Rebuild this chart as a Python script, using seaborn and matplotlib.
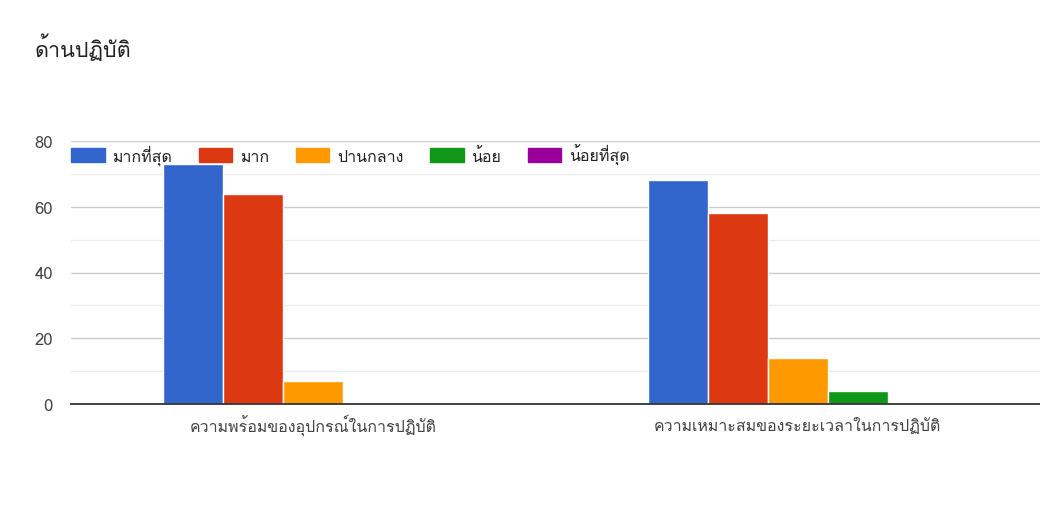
import numpy as np
import pandas as pd
import matplotlib
matplotlib.use("Agg")
import matplotlib.pyplot as plt
import seaborn as sns
from matplotlib import font_manager, ft2font
from matplotlib.patches import Patch
from matplotlib.ticker import MultipleLocator

# data
categories = ["ความพร้อมของอุปกรณ์ในการปฏิบัติ", "ความเหมาะสมของระยะเวลาในการปฏิบัติ"]
levels = ["มากที่สุด", "มาก", "ปานกลาง", "น้อย", "น้อยที่สุด"]
most = [73, 68]
much = [64, 58]
medium = [7, 14]
little = [0, 4]
least = [0, 0]
colors = ["#3366cc", "#dc3912", "#ff9900", "#109618", "#990099"]

rows = []
for lvl, vals in zip(levels, [most, much, medium, little, least]):
    for cat, v in zip(categories, vals):
        rows.append({"cat": cat, "level": lvl, "count": v})
df = pd.DataFrame(rows)

sns.set_style("white")

# find any installed family that has Thai glyphs
thai_fams = []
for f in font_manager.fontManager.ttflist:
    try:
        ft = ft2font.FT2Font(f.fname)
        if 0x0E01 in ft.get_charmap() and f.name not in thai_fams:
            thai_fams.append(f.name)
    except Exception:
        pass
plt.rcParams['font.family'] = thai_fams + ['DejaVu Sans']

fig = plt.figure(figsize=(10.4, 5.1), dpi=100)
ax = fig.add_axes([71/1040, 1 - 405/510, 969/1040, 263/510])

sns.barplot(data=df, x="cat", y="count", hue="level", hue_order=levels,
            order=categories, palette=colors, width=0.62, ax=ax,
            edgecolor="white", linewidth=1, legend=False, saturation=1)

ax.set_ylim(0, 80)
ax.set_xlim(-0.5, 1.5)
ax.yaxis.set_major_locator(MultipleLocator(20))
ax.yaxis.set_minor_locator(MultipleLocator(10))
ax.grid(axis="y", which="major", color="#cccccc", linewidth=1)
ax.grid(axis="y", which="minor", color="#ebebeb", linewidth=1)
ax.set_axisbelow(True)
for s in ["left", "right", "top"]:
    ax.spines[s].set_visible(False)
ax.spines["bottom"].set_color("#333333")
ax.spines["bottom"].set_linewidth(1.3)
ax.tick_params(axis="both", length=0, colors="#444444")
ax.tick_params(axis="y", pad=13, labelsize=12)
ax.tick_params(axis="x", pad=19, labelsize=11.5)
for lbl in ax.get_xticklabels():
    lbl.set_va("baseline")
ax.set_xlabel("")
ax.set_ylabel("")

handles = [Patch(facecolor=c, edgecolor=c, label=l) for c, l in zip(colors, levels)]
leg = ax.legend(handles=handles, loc="upper left", bbox_to_anchor=(0, 0.99),
                ncol=5, frameon=False, handlelength=2.1, handleheight=1.0,
                columnspacing=1.65, handletextpad=0.5, fontsize=11.5,
                borderaxespad=0.0, borderpad=0.0)
for t in leg.get_texts():
    t.set_color("#222222")

fig.text(35/1040, 1 - 48/510, "ด้านปฏิบัติ", fontsize=15.5, color="#222222",
         va="center", ha="left")

fig.savefig("out.png", dpi=100)
